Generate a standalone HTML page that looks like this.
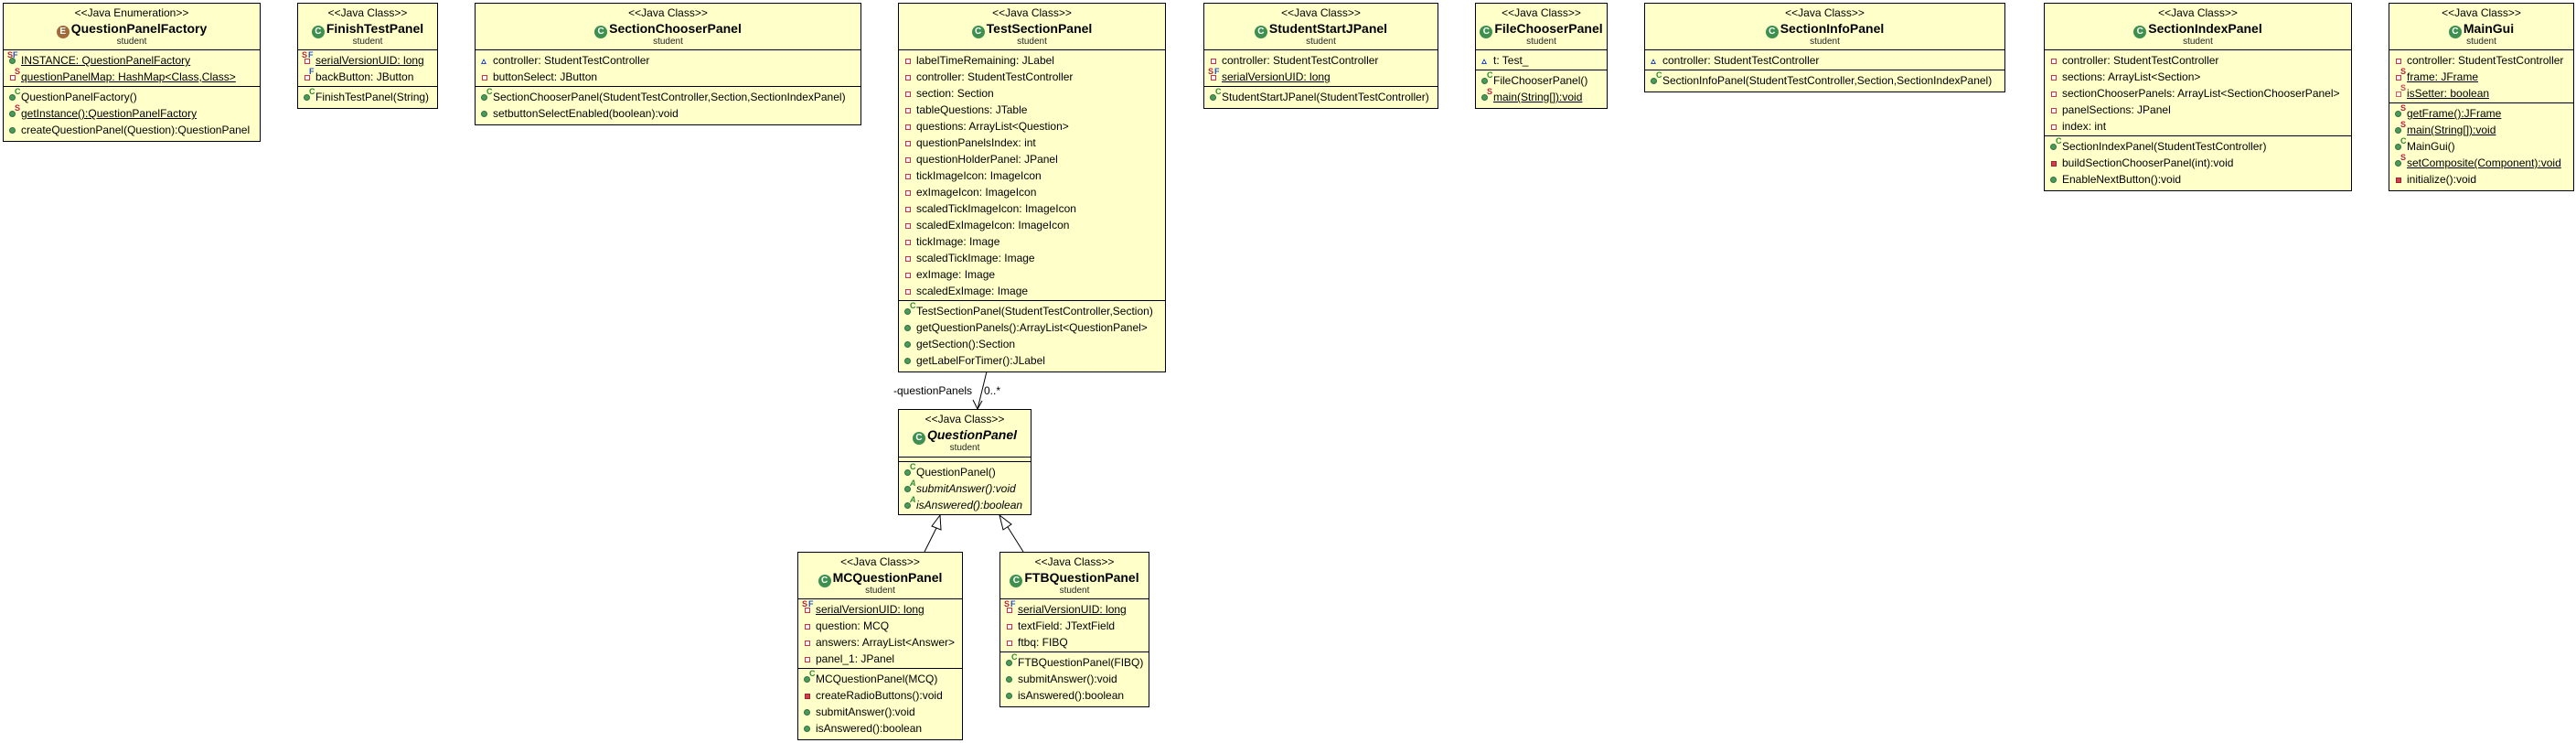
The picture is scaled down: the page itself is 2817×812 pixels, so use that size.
<!DOCTYPE html>
<html><head><meta charset="utf-8"><style>
body{margin:0;width:2817px;height:812px;background:#fff;position:relative;overflow:hidden;font-family:"Liberation Sans",sans-serif}
.b{position:absolute;background:#ffffca;border:1px solid #000;box-sizing:border-box;font-size:12px;color:#000}
.h{height:50px;text-align:center;border-bottom:1px solid #000}
.st{height:18px;line-height:20px;font-size:12px}
.nm{height:18px;line-height:18px;font-weight:bold;font-size:14px}
.pk{height:14px;line-height:12px;font-size:10px;color:#222}
.c{padding:2px 0 1px;border-bottom:1px solid #000}
.c:last-child{border-bottom:none}
.e{height:4px;border-bottom:1px solid #000}
.r{height:18px;line-height:18px;white-space:nowrap;padding-left:4px;position:relative}
.i{display:inline-block;width:15px;height:18px;position:relative;vertical-align:top}
.u{text-decoration:underline}
.it{font-style:italic}
.pv:before{content:"";position:absolute;left:3px;top:7px;width:4px;height:4px;border:1px solid #d03040;background:#fff}
.pm:before{content:"";position:absolute;left:3px;top:7px;width:6px;height:6px;background:#d04050;border:1px solid #a02030;box-sizing:border-box}
.gm:before{content:"";position:absolute;left:2px;top:6px;width:7px;height:7px;border-radius:50%;background:#4a9a5a;border:1px solid #2f7040;box-sizing:border-box}
.pk2:before{content:"";position:absolute;left:2px;top:7px;width:0;height:0;border-left:3px solid transparent;border-right:3px solid transparent;border-bottom:6px solid #2050c0}
.pk2:after{content:"";position:absolute;left:4px;top:10px;width:2px;height:2px;background:#fff}
.sup{position:absolute;top:-2px;font-size:9px;line-height:10px;font-weight:bold}
.ci{display:inline-block;width:14px;height:14px;border-radius:50%;background:#3d9050;color:#fff;font-size:10px;line-height:14px;text-align:center;vertical-align:-1px;margin-right:2px;font-weight:bold}
</style></head><body>

<svg style="position:absolute;left:0;top:0" width="2817" height="812">
<line x1="1079" y1="406" x2="1069" y2="447" stroke="#000" stroke-width="1"/>
<polyline points="1064,437 1069,447 1074,438" fill="none" stroke="#000" stroke-width="1"/>
<text x="977" y="431" font-family="Liberation Sans" font-size="12">-questionPanels</text>
<text x="1076" y="431" font-family="Liberation Sans" font-size="12">0..*</text>
<line x1="1011" y1="603" x2="1024" y2="577" stroke="#000"/>
<polygon points="1028,563 1019,575 1029,579" fill="#fff" stroke="#000"/>
<line x1="1119" y1="603" x2="1102" y2="576" stroke="#000"/>
<polygon points="1093,563 1097,579 1106,573" fill="#fff" stroke="#000"/>
</svg>

<!-- QuestionPanelFactory -->
<div class="b" style="left:3px;top:3px;width:282px;height:152px">
<div class="h"><div class="st">&lt;&lt;Java Enumeration&gt;&gt;</div><div class="nm"><span class="ci" style="background:#a06a3a">E</span>QuestionPanelFactory</div><div class="pk">student</div></div>
<div class="c">
<div class="r"><span class="i gm" style=""><span class="sup" style="left:0;color:#c02040">S</span><span class="sup" style="left:6px;color:#2050c0">F</span></span><span class="u">INSTANCE: QuestionPanelFactory</span></div>
<div class="r"><span class="i pv"><span class="sup" style="left:8px;color:#c02040">S</span></span><span class="u">questionPanelMap: HashMap&lt;Class,Class&gt;</span></div>
</div>
<div class="c">
<div class="r"><span class="i gm"><span class="sup" style="left:8px;color:#2a8a30">C</span></span>QuestionPanelFactory()</div>
<div class="r"><span class="i gm"><span class="sup" style="left:8px;color:#c02040">S</span></span><span class="u">getInstance():QuestionPanelFactory</span></div>
<div class="r"><span class="i gm"></span>createQuestionPanel(Question):QuestionPanel</div>
</div></div>

<!-- FinishTestPanel -->
<div class="b" style="left:325px;top:3px;width:154px;height:116px">
<div class="h"><div class="st">&lt;&lt;Java Class&gt;&gt;</div><div class="nm"><span class="ci">C</span>FinishTestPanel</div><div class="pk">student</div></div>
<div class="c">
<div class="r"><span class="i pv"><span class="sup" style="left:0;color:#c02040">S</span><span class="sup" style="left:7px;color:#2050c0">F</span></span><span class="u">serialVersionUID: long</span></div>
<div class="r"><span class="i pv"><span class="sup" style="left:8px;color:#2050c0">F</span></span>backButton: JButton</div>
</div>
<div class="c">
<div class="r"><span class="i gm"><span class="sup" style="left:8px;color:#2a8a30">C</span></span>FinishTestPanel(String)</div>
</div></div>

<!-- SectionChooserPanel -->
<div class="b" style="left:519px;top:3px;width:423px;height:134px">
<div class="h"><div class="st">&lt;&lt;Java Class&gt;&gt;</div><div class="nm"><span class="ci">C</span>SectionChooserPanel</div><div class="pk">student</div></div>
<div class="c">
<div class="r"><span class="i pk2"></span>controller: StudentTestController</div>
<div class="r"><span class="i pv"></span>buttonSelect: JButton</div>
</div>
<div class="c">
<div class="r"><span class="i gm"><span class="sup" style="left:8px;color:#2a8a30">C</span></span>SectionChooserPanel(StudentTestController,Section,SectionIndexPanel)</div>
<div class="r"><span class="i gm"></span>setbuttonSelectEnabled(boolean):void</div>
</div></div>

<!-- TestSectionPanel -->
<div class="b" style="left:982px;top:3px;width:293px;height:404px">
<div class="h"><div class="st">&lt;&lt;Java Class&gt;&gt;</div><div class="nm"><span class="ci">C</span>TestSectionPanel</div><div class="pk">student</div></div>
<div class="c">
<div class="r"><span class="i pv"></span>labelTimeRemaining: JLabel</div>
<div class="r"><span class="i pv"></span>controller: StudentTestController</div>
<div class="r"><span class="i pv"></span>section: Section</div>
<div class="r"><span class="i pv"></span>tableQuestions: JTable</div>
<div class="r"><span class="i pv"></span>questions: ArrayList&lt;Question&gt;</div>
<div class="r"><span class="i pv"></span>questionPanelsIndex: int</div>
<div class="r"><span class="i pv"></span>questionHolderPanel: JPanel</div>
<div class="r"><span class="i pv"></span>tickImageIcon: ImageIcon</div>
<div class="r"><span class="i pv"></span>exImageIcon: ImageIcon</div>
<div class="r"><span class="i pv"></span>scaledTickImageIcon: ImageIcon</div>
<div class="r"><span class="i pv"></span>scaledExImageIcon: ImageIcon</div>
<div class="r"><span class="i pv"></span>tickImage: Image</div>
<div class="r"><span class="i pv"></span>scaledTickImage: Image</div>
<div class="r"><span class="i pv"></span>exImage: Image</div>
<div class="r"><span class="i pv"></span>scaledExImage: Image</div>
</div>
<div class="c">
<div class="r"><span class="i gm"><span class="sup" style="left:8px;color:#2a8a30">C</span></span>TestSectionPanel(StudentTestController,Section)</div>
<div class="r"><span class="i gm"></span>getQuestionPanels():ArrayList&lt;QuestionPanel&gt;</div>
<div class="r"><span class="i gm"></span>getSection():Section</div>
<div class="r"><span class="i gm"></span>getLabelForTimer():JLabel</div>
</div></div>

<!-- StudentStartJPanel -->
<div class="b" style="left:1316px;top:3px;width:257px;height:116px">
<div class="h"><div class="st">&lt;&lt;Java Class&gt;&gt;</div><div class="nm"><span class="ci">C</span>StudentStartJPanel</div><div class="pk">student</div></div>
<div class="c">
<div class="r"><span class="i pv"></span>controller: StudentTestController</div>
<div class="r"><span class="i pv"><span class="sup" style="left:0;color:#c02040">S</span><span class="sup" style="left:7px;color:#2050c0">F</span></span><span class="u">serialVersionUID: long</span></div>
</div>
<div class="c">
<div class="r"><span class="i gm"><span class="sup" style="left:8px;color:#2a8a30">C</span></span>StudentStartJPanel(StudentTestController)</div>
</div></div>

<!-- FileChooserPanel -->
<div class="b" style="left:1613px;top:3px;width:145px;height:116px">
<div class="h"><div class="st">&lt;&lt;Java Class&gt;&gt;</div><div class="nm"><span class="ci">C</span>FileChooserPanel</div><div class="pk">student</div></div>
<div class="c">
<div class="r"><span class="i pk2"></span>t: Test_</div>
</div>
<div class="c">
<div class="r"><span class="i gm"><span class="sup" style="left:8px;color:#2a8a30">C</span></span>FileChooserPanel()</div>
<div class="r"><span class="i gm"><span class="sup" style="left:8px;color:#c02040">S</span></span><span class="u">main(String[]):void</span></div>
</div></div>

<!-- SectionInfoPanel -->
<div class="b" style="left:1798px;top:3px;width:395px;height:98px">
<div class="h"><div class="st">&lt;&lt;Java Class&gt;&gt;</div><div class="nm"><span class="ci">C</span>SectionInfoPanel</div><div class="pk">student</div></div>
<div class="c">
<div class="r"><span class="i pk2"></span>controller: StudentTestController</div>
</div>
<div class="c">
<div class="r"><span class="i gm"><span class="sup" style="left:8px;color:#2a8a30">C</span></span>SectionInfoPanel(StudentTestController,Section,SectionIndexPanel)</div>
</div></div>

<!-- SectionIndexPanel -->
<div class="b" style="left:2235px;top:3px;width:337px;height:206px">
<div class="h"><div class="st">&lt;&lt;Java Class&gt;&gt;</div><div class="nm"><span class="ci">C</span>SectionIndexPanel</div><div class="pk">student</div></div>
<div class="c">
<div class="r"><span class="i pv"></span>controller: StudentTestController</div>
<div class="r"><span class="i pv"></span>sections: ArrayList&lt;Section&gt;</div>
<div class="r"><span class="i pv"></span>sectionChooserPanels: ArrayList&lt;SectionChooserPanel&gt;</div>
<div class="r"><span class="i pv"></span>panelSections: JPanel</div>
<div class="r"><span class="i pv"></span>index: int</div>
</div>
<div class="c">
<div class="r"><span class="i gm"><span class="sup" style="left:8px;color:#2a8a30">C</span></span>SectionIndexPanel(StudentTestController)</div>
<div class="r"><span class="i pm"></span>buildSectionChooserPanel(int):void</div>
<div class="r"><span class="i gm"></span>EnableNextButton():void</div>
</div></div>

<!-- MainGui -->
<div class="b" style="left:2612px;top:3px;width:203px;height:206px">
<div class="h"><div class="st">&lt;&lt;Java Class&gt;&gt;</div><div class="nm"><span class="ci">C</span>MainGui</div><div class="pk">student</div></div>
<div class="c">
<div class="r"><span class="i pv"></span>controller: StudentTestController</div>
<div class="r"><span class="i pv"><span class="sup" style="left:8px;color:#c02040">S</span></span><span class="u">frame: JFrame</span></div>
<div class="r"><span class="i pv" style="opacity:.8"><span class="sup" style="left:8px;color:#c02040">S</span></span><span class="u">isSetter: boolean</span></div>
</div>
<div class="c">
<div class="r"><span class="i gm"><span class="sup" style="left:8px;color:#c02040">S</span></span><span class="u">getFrame():JFrame</span></div>
<div class="r"><span class="i gm"><span class="sup" style="left:8px;color:#c02040">S</span></span><span class="u">main(String[]):void</span></div>
<div class="r"><span class="i gm"><span class="sup" style="left:8px;color:#2a8a30">C</span></span>MainGui()</div>
<div class="r"><span class="i gm"><span class="sup" style="left:8px;color:#c02040">S</span></span><span class="u">setComposite(Component):void</span></div>
<div class="r"><span class="i pm"></span>initialize():void</div>
</div></div>

<!-- QuestionPanel -->
<div class="b" style="left:982px;top:447px;width:146px;height:116px">
<div class="h" style="height:51px"><div class="st">&lt;&lt;Java Class&gt;&gt;</div><div class="nm it"><span class="ci" style="font-style:normal">C</span>QuestionPanel</div><div class="pk">student</div></div>
<div class="e"></div>
<div class="c">
<div class="r"><span class="i gm"><span class="sup" style="left:8px;color:#2a8a30">C</span></span>QuestionPanel()</div>
<div class="r it"><span class="i gm"><span class="sup" style="left:8px;color:#2a8a30">A</span></span>submitAnswer():void</div>
<div class="r it"><span class="i gm"><span class="sup" style="left:8px;color:#2a8a30">A</span></span>isAnswered():boolean</div>
</div></div>

<!-- MCQuestionPanel -->
<div class="b" style="left:872px;top:603px;width:181px;height:206px">
<div class="h"><div class="st">&lt;&lt;Java Class&gt;&gt;</div><div class="nm"><span class="ci">C</span>MCQuestionPanel</div><div class="pk">student</div></div>
<div class="c">
<div class="r"><span class="i pv"><span class="sup" style="left:0;color:#c02040">S</span><span class="sup" style="left:7px;color:#2050c0">F</span></span><span class="u">serialVersionUID: long</span></div>
<div class="r"><span class="i pv"></span>question: MCQ</div>
<div class="r"><span class="i pv"></span>answers: ArrayList&lt;Answer&gt;</div>
<div class="r"><span class="i pv"></span>panel_1: JPanel</div>
</div>
<div class="c">
<div class="r"><span class="i gm"><span class="sup" style="left:8px;color:#2a8a30">C</span></span>MCQuestionPanel(MCQ)</div>
<div class="r"><span class="i pm"></span>createRadioButtons():void</div>
<div class="r"><span class="i gm"></span>submitAnswer():void</div>
<div class="r"><span class="i gm"></span>isAnswered():boolean</div>
</div></div>

<!-- FTBQuestionPanel -->
<div class="b" style="left:1093px;top:603px;width:164px;height:170px">
<div class="h"><div class="st">&lt;&lt;Java Class&gt;&gt;</div><div class="nm"><span class="ci">C</span>FTBQuestionPanel</div><div class="pk">student</div></div>
<div class="c">
<div class="r"><span class="i pv"><span class="sup" style="left:0;color:#c02040">S</span><span class="sup" style="left:7px;color:#2050c0">F</span></span><span class="u">serialVersionUID: long</span></div>
<div class="r"><span class="i pv"></span>textField: JTextField</div>
<div class="r"><span class="i pv"></span>ftbq: FIBQ</div>
</div>
<div class="c">
<div class="r"><span class="i gm"><span class="sup" style="left:8px;color:#2a8a30">C</span></span>FTBQuestionPanel(FIBQ)</div>
<div class="r"><span class="i gm"></span>submitAnswer():void</div>
<div class="r"><span class="i gm"></span>isAnswered():boolean</div>
</div></div>

</body></html>
